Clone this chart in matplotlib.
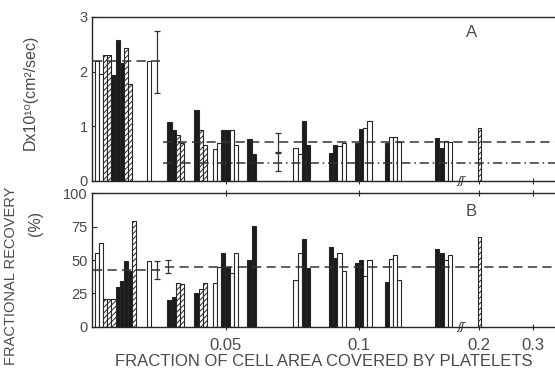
import numpy as np
import matplotlib
matplotlib.use("Agg")
import matplotlib.pyplot as plt

# ---------------- data ----------------
# group start positions (fraction of cell area covered by platelets)
group_x = [0.0009, 0.0205, 0.0281, 0.0382, 0.0452, 0.0581, 0.0753, 0.0887, 0.0984, 0.1095, 0.1285]

# bar kinds per group: O = open, B = black (solid), H = hatched
kinds_A = ["OOHHBBBHH", "O", "BBHH", "BHH", "OOBBOO", "BB", "OOBB", "BBOO", "BBOO", "BOOO", "BBOO"]
values_A = [
    [2.2, 1.95, 2.3, 2.3, 1.94, 2.58, 2.15, 2.43, 1.77],
    [2.2],
    [1.08, 0.93, 0.84, 0.69],
    [1.30, 0.93, 0.65],
    [0.57, 0.69, 0.93, 0.93, 0.93, 0.65],
    [0.77, 0.49],
    [0.60, 0.48, 1.09, 0.66],
    [0.50, 0.65, 0.63, 0.68],
    [0.68, 0.95, 0.96, 1.10],
    [0.68, 0.79, 0.79, 0.71],
    [0.78, 0.60, 0.73, 0.71],
]
kinds_B = ["OOHHHBBBBH", "O", "BBHH", "BHH", "OOBBOO", "BB", "OOBB", "BBOO", "BBOO", "BOOO", "BBOO"]
values_B = [
    [55, 63, 21, 21, 21, 30, 34.5, 49, 42, 79.5],
    [49],
    [20, 22.5, 33, 32],
    [25, 28.3, 33],
    [33, 45, 55, 45, 40, 55],
    [50, 75.5],
    [35, 55, 65.5, 44.3],
    [60, 51.8, 55, 42],
    [47.5, 50, 38, 50],
    [33.8, 50.5, 53.5, 35],
    [58.3, 55, 50, 53.8],
]
# single hatched bar at fraction 0.2
x_02 = 0.2
value_02_A = 0.97
value_02_B = 67

# means and error bars: (x, mean, err), and mean line extents (x0, x1, mean, style)
err_A = [(0.0242, 2.18, 0.57), (0.0697, 0.705, 0.175), (0.0697, 0.335, 0.165)]
lines_A = [(0.0, 0.0253, 2.2, "dash"), (0.0266, 0.35, 0.70, "dash"), (0.0266, 0.35, 0.32, "dashdot")]
err_B = [(0.0240, 42.5, 7.0), (0.0282, 45.0, 5.0)]
lines_B = [(0.0, 0.0253, 42.5, "dash"), (0.0272, 0.35, 45.0, "dash")]

xticks = [0.05, 0.1, 0.2, 0.3]
xticklabels = ["0.05", "0.1", "0.2", "0.3"]
yticks_A = [0, 1, 2, 3]
yticks_B = [0, 25, 50, 75, 100]

# ---------------- styling ----------------
plt.rcParams["hatch.linewidth"] = 0.7
INK = "#262626"
TXT = "#4a4a4a"
REG = ["Liberation Sans", "DejaVu Sans"]

# broken x axis: linear to 0.14, compressed gap, then compressed 0.2 -> 0.3
def fwd(x):
    x = np.asarray(x, dtype=float)
    return np.where(x <= 0.14, x,
                    np.where(x <= 0.2, 0.14 + (x - 0.14) * (0.005 / 0.06),
                             0.145 + (x - 0.2) * 0.2026))

def inv(y):
    y = np.asarray(y, dtype=float)
    return np.where(y <= 0.14, y,
                    np.where(y <= 0.145, 0.14 + (y - 0.14) / (0.005 / 0.06),
                             0.2 + (y - 0.145) / 0.2026))

W = 0.00155  # bar width

fig = plt.figure(figsize=(5.55, 3.77), dpi=100)
axA = fig.add_axes([92 / 555, 1 - 180.5 / 377, 464 / 555, 163.5 / 377])
axB = fig.add_axes([92 / 555, 1 - 326.7 / 377, 464 / 555, 133.4 / 377])

def style_for(k):
    if k == "B":
        return dict(facecolor="#1c1c1c", edgecolor=INK)
    if k == "H":
        return dict(facecolor="white", edgecolor=INK, hatch="//////")
    return dict(facecolor="white", edgecolor=INK)

def draw_panel(ax, kinds, values, v02, errs, lines, ylim, yticks):
    ax.set_xscale("function", functions=(fwd, inv))
    for gx, ks, vs in zip(group_x, kinds, values):
        for i, (k, v) in enumerate(zip(ks, vs)):
            ax.bar(gx + i * W, v, width=W, align="edge", linewidth=0.8, zorder=2, **style_for(k))
    ax.bar(x_02, v02, width=0.008, align="center", linewidth=0.8, zorder=2, **style_for("H"))
    for x0, x1, m, st in lines:
        if st == "dash":
            ax.plot([x0, x1], [m, m], color="#333333", lw=1.1, dashes=(6, 3.5), zorder=3)
        else:
            ax.plot([x0, x1], [m, m], color="#333333", lw=1.1, dashes=(6, 2.5, 1, 2.5), zorder=3)
    for x, m, e in errs:
        ax.errorbar([x], [m], yerr=[e], fmt="none", ecolor="#333333", elinewidth=0.9,
                    capsize=2.5, capthick=0.9, zorder=4)
    ax.set_xlim(-0.0002, 0.342)
    ax.set_ylim(*ylim)
    ax.set_yticks(yticks)
    ax.set_yticklabels([str(t) for t in yticks], family=REG, fontsize=10.5, color=TXT)
    ax.set_xticks(xticks)
    ax.tick_params(axis="y", direction="in", length=3.5, width=0.8, color=INK, pad=3)
    ax.tick_params(axis="x", direction="inout", length=4, width=0.8, color=INK)
    for s in ["left", "bottom", "top"]:
        ax.spines[s].set_color(INK)
        ax.spines[s].set_linewidth(1.0)
    ax.spines["right"].set_visible(False)
    # axis break marker
    ax.text(0.1382, 0, "\u0283\u0283", transform=ax.get_xaxis_transform(), ha="center", va="center",
            fontsize=8, family="DejaVu Sans", color=INK, zorder=5, style="italic")

draw_panel(axA, kinds_A, values_A, value_02_A, err_A, lines_A, (0, 3), yticks_A)
draw_panel(axB, kinds_B, values_B, value_02_B, err_B, lines_B, (0, 100), yticks_B)

axA.set_xticklabels([])
axB.tick_params(axis="x", top=True)
axB.set_xticklabels(xticklabels, family=REG, fontsize=12, color=TXT)
axB.tick_params(axis="x", pad=6)

axA.text(0.1652, 2.72, "A", ha="center", va="center", family=REG, fontsize=12, color=TXT)
axB.text(0.1652, 86, "B", ha="center", va="center", family=REG, fontsize=12, color=TXT)

fig.text(30 / 555, 1 - 92 / 377, "Dx10\u00b9\u2070(cm\u00b2/sec)", rotation=90, ha="center", va="center",
         family=REG, fontsize=11.5, color=TXT)
fig.text(11 / 555, 1 - 276 / 377, "FRACTIONAL RECOVERY", rotation=90, ha="center", va="center",
         family=REG, fontsize=10.5, color=TXT)
fig.text(35 / 555, 1 - 223 / 377, "(%)", rotation=90, ha="center", va="center",
         family=REG, fontsize=11.5, color=TXT)
fig.text(324 / 555, 1 - 362 / 377, "FRACTION OF CELL AREA COVERED BY PLATELETS", ha="center", va="center",
         family=REG, fontsize=12, color=TXT)

fig.savefig("out.png", dpi=100, facecolor="white")
